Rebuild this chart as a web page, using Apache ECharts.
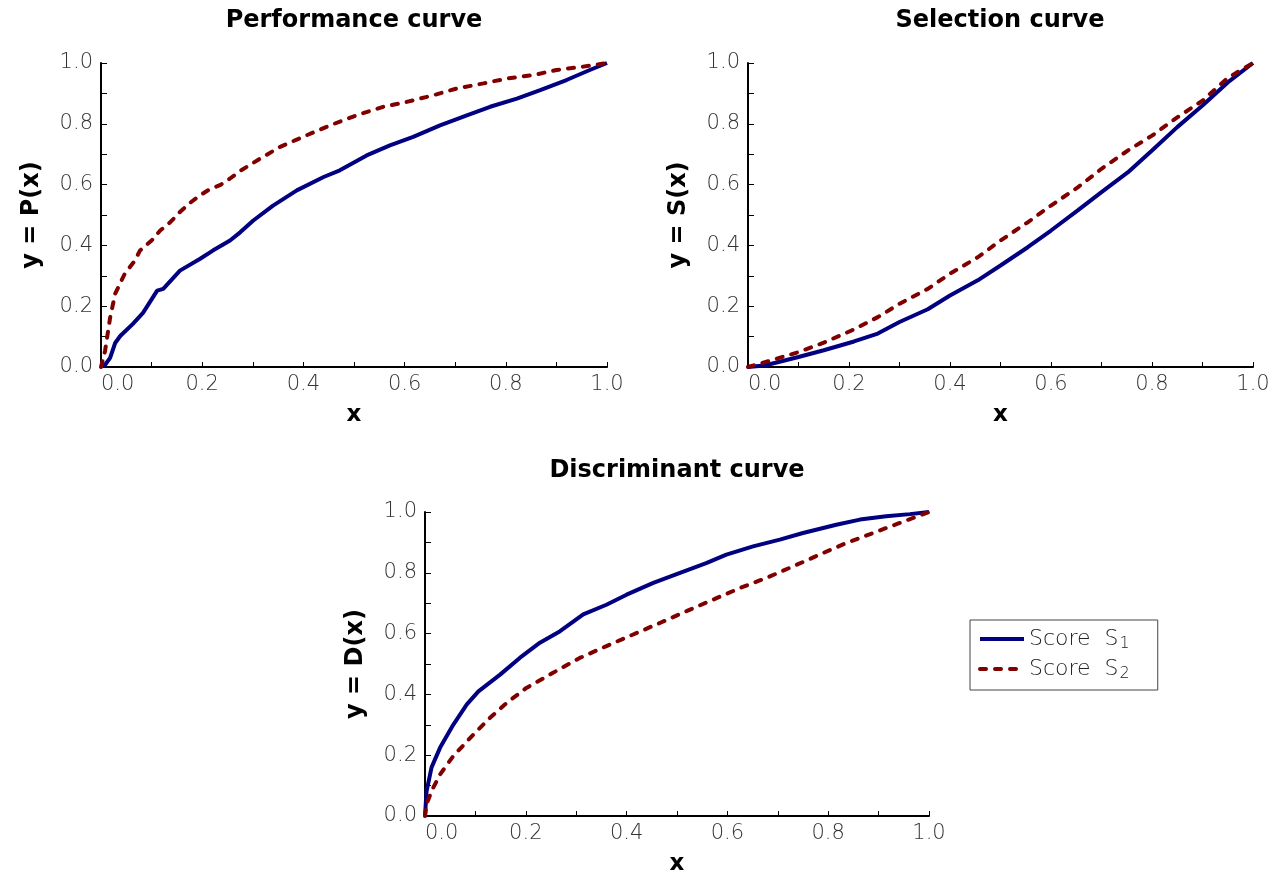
<!DOCTYPE html>
<html>
<head>
<meta charset="utf-8">
<script src="https://cdn.jsdelivr.net/npm/echarts@6/dist/echarts.min.js"></script>
<style>
  html, body { margin: 0; padding: 0; background: #fff; }
  #main { width: 1276px; height: 877px; }
</style>
</head>
<body>
<div id="main"></div>
<script>
// Performance curve
var perfX1 = [0.005, 0.018, 0.028, 0.038, 0.063, 0.083, 0.111, 0.123, 0.156, 0.196, 0.221, 0.255, 0.275, 0.301, 0.34, 0.387, 0.44, 0.472, 0.525, 0.571, 0.617, 0.67, 0.723, 0.769, 0.822, 0.868, 0.92, 0.966, 1];
var perfY1 = [0, 0.03, 0.079, 0.102, 0.142, 0.178, 0.251, 0.257, 0.317, 0.356, 0.383, 0.416, 0.443, 0.482, 0.531, 0.581, 0.625, 0.647, 0.696, 0.729, 0.757, 0.795, 0.828, 0.856, 0.883, 0.911, 0.944, 0.977, 1];
var perfX2 = [0, 0.008, 0.018, 0.028, 0.047, 0.067, 0.077, 0.10, 0.117, 0.136, 0.156, 0.176, 0.196, 0.215, 0.235, 0.255, 0.275, 0.314, 0.354, 0.406, 0.453, 0.505, 0.558, 0.604, 0.657, 0.703, 0.756, 0.802, 0.854, 0.90, 0.953, 1];
var perfY2 = [0, 0.053, 0.162, 0.241, 0.307, 0.35, 0.383, 0.416, 0.449, 0.475, 0.51, 0.54, 0.565, 0.585, 0.598, 0.62, 0.645, 0.685, 0.724, 0.762, 0.795, 0.828, 0.856, 0.872, 0.894, 0.916, 0.933, 0.949, 0.96, 0.977, 0.988, 1];

// Selection curve
var selX1 = [0, 0.033, 0.1, 0.15, 0.21, 0.257, 0.30, 0.356, 0.40, 0.455, 0.50, 0.554, 0.60, 0.653, 0.70, 0.752, 0.80, 0.85, 0.90, 0.95, 1];
var selY1 = [0, 0.005, 0.033, 0.055, 0.084, 0.11, 0.148, 0.19, 0.235, 0.285, 0.334, 0.394, 0.449, 0.515, 0.575, 0.64, 0.712, 0.789, 0.86, 0.936, 1];
var selX2 = [0, 0.046, 0.1, 0.15, 0.205, 0.257, 0.30, 0.356, 0.40, 0.455, 0.50, 0.554, 0.60, 0.653, 0.70, 0.752, 0.80, 0.85, 0.90, 0.95, 1];
var selY2 = [0, 0.022, 0.049, 0.08, 0.12, 0.164, 0.208, 0.257, 0.307, 0.361, 0.416, 0.476, 0.531, 0.591, 0.652, 0.712, 0.761, 0.821, 0.876, 0.951, 1];

// Discriminant curve
var discX1 = [0, 0.003, 0.013, 0.03, 0.056, 0.083, 0.106, 0.149, 0.188, 0.228, 0.268, 0.314, 0.36, 0.40, 0.453, 0.506, 0.558, 0.598, 0.651, 0.704, 0.75, 0.816, 0.863, 0.915, 0.962, 1];
var discY1 = [0, 0.08, 0.16, 0.225, 0.30, 0.367, 0.41, 0.465, 0.52, 0.57, 0.608, 0.663, 0.695, 0.728, 0.767, 0.80, 0.832, 0.86, 0.887, 0.909, 0.931, 0.958, 0.975, 0.986, 0.993, 1];
var discX2 = [0, 0.003, 0.013, 0.03, 0.056, 0.096, 0.129, 0.162, 0.20, 0.254, 0.307, 0.36, 0.413, 0.466, 0.519, 0.572, 0.625, 0.677, 0.73, 0.783, 0.836, 0.889, 0.942, 1];
var discY2 = [0, 0.038, 0.082, 0.137, 0.197, 0.268, 0.323, 0.372, 0.42, 0.471, 0.52, 0.559, 0.597, 0.635, 0.674, 0.712, 0.75, 0.783, 0.821, 0.86, 0.898, 0.931, 0.964, 1];

var titles = ['Performance curve', 'Selection curve', 'Discriminant curve'];
var yNames = ['y = P(x)', 'y = S(x)', 'y = D(x)'];
var seriesNames = ['S1', 'S2'];

function pairs(xs, ys) {
  return xs.map(function (x, i) { return [x, ys[i]]; });
}

var FONT = 'DejaVu Sans';
var grids = [
  { left: 101, top: 63, width: 506, height: 304 },
  { left: 748, top: 63, width: 505, height: 304 },
  { left: 425, top: 512, width: 504, height: 305 }
];

function xAxisFor(i) {
  return {
    gridIndex: i, type: 'value', min: 0, max: 1, interval: 0.2,
    name: 'x', nameLocation: 'middle', nameGap: 37,
    nameTextStyle: { fontFamily: FONT, fontSize: 23, fontWeight: 'bold', color: '#000' },
    axisLine: { show: true, onZero: false, lineStyle: { color: '#000', width: 2 } },
    axisTick: { show: true, inside: true, length: 5, lineStyle: { color: '#000' } },
    minorTick: { show: true, splitNumber: 2, length: 5, lineStyle: { color: '#000' } },
    axisLabel: {
      margin: 7, fontFamily: FONT, fontSize: 21, fontWeight: 200, color: '#333',
      alignMinLabel: 'left',
      formatter: function (v) { return v.toFixed(1); }
    },
    splitLine: { show: false }
  };
}

function yAxisFor(i) {
  return {
    gridIndex: i, type: 'value', min: 0, max: 1, interval: 0.2,
    name: yNames[i], nameLocation: 'middle', nameGap: 57, nameRotate: 90,
    nameTextStyle: { fontFamily: FONT, fontSize: 24, fontWeight: 'bold', color: '#000' },
    axisLine: { show: true, onZero: false, lineStyle: { color: '#000', width: 2 } },
    axisTick: { show: true, inside: true, length: 6, lineStyle: { color: '#000' } },
    minorTick: { show: true, splitNumber: 2, length: 6, lineStyle: { color: '#000' } },
    axisLabel: {
      margin: 8, fontFamily: FONT, fontSize: 21, fontWeight: 200, color: '#333',
      formatter: function (v) { return v.toFixed(1); }
    },
    splitLine: { show: false }
  };
}

var blueStyle = { color: '#000080', width: 4, type: 'solid' };
var redStyle = { color: '#800000', width: 4, type: [6, 9], cap: 'round' };

function line(name, gi, data, style) {
  return {
    name: name, type: 'line', xAxisIndex: gi, yAxisIndex: gi,
    data: data, showSymbol: false, symbol: 'none', smooth: false,
    color: style.color, lineStyle: style, animation: false
  };
}

var chart = echarts.init(document.getElementById('main'), null, { renderer: 'canvas' });

var titleFont = 'bold 24px "DejaVu Sans"';
var option = {
  backgroundColor: '#fff',
  animation: false,
  grid: grids,
  xAxis: [xAxisFor(0), xAxisFor(1), xAxisFor(2)],
  yAxis: [yAxisFor(0), yAxisFor(1), yAxisFor(2)],
  graphic: [
    { type: 'text', x: 354, y: 21, style: { text: titles[0], align: 'center', verticalAlign: 'middle', font: titleFont, fill: '#000' } },
    { type: 'text', x: 1000, y: 21, style: { text: titles[1], align: 'center', verticalAlign: 'middle', font: titleFont, fill: '#000' } },
    { type: 'text', x: 677, y: 471, style: { text: titles[2], align: 'center', verticalAlign: 'middle', font: titleFont, fill: '#000' } }
  ],
  legend: {
    orient: 'vertical', left: 970, top: 620,
    data: seriesNames,
    borderColor: '#444', borderWidth: 1, borderRadius: 0,
    padding: [8, 28, 8, 8], itemGap: 6, itemWidth: 44, itemHeight: 14,
    itemStyle: { opacity: 0 },
    lineStyle: { width: 4 },
    formatter: function (n) { return 'Score  S{sub|' + n.slice(1) + '}'; },
    textStyle: {
      fontFamily: FONT, fontSize: 22, fontWeight: 200, color: '#222',
      rich: { sub: { fontFamily: FONT, fontSize: 16, fontWeight: 200, color: '#222', padding: [10, 0, 0, 1] } }
    }
  },
  series: [
    line('S1', 0, pairs(perfX1, perfY1), blueStyle),
    line('S2', 0, pairs(perfX2, perfY2), redStyle),
    line('S1', 1, pairs(selX1, selY1), blueStyle),
    line('S2', 1, pairs(selX2, selY2), redStyle),
    line('S1', 2, pairs(discX1, discY1), blueStyle),
    line('S2', 2, pairs(discX2, discY2), redStyle)
  ]
};

chart.setOption(option);
</script>
</body>
</html>
